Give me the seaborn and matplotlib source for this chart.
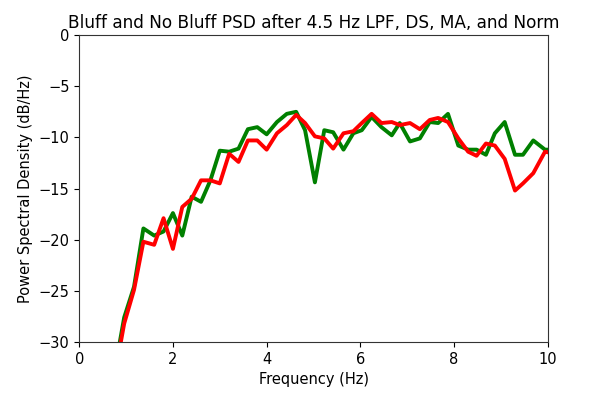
import matplotlib
matplotlib.use("Agg")
import matplotlib.pyplot as plt
import seaborn as sns
import pandas as pd

# frequencies (Hz)
freq = [0.75, 0.96, 1.17, 1.37, 1.60, 1.80, 2.00, 2.20, 2.40, 2.60, 2.80, 3.00,
        3.20, 3.40, 3.60, 3.80, 4.00, 4.22, 4.43, 4.63, 4.82, 5.03, 5.23, 5.42,
        5.64, 5.85, 6.03, 6.24, 6.45, 6.67, 6.84, 7.06, 7.27, 7.48, 7.66, 7.87,
        8.09, 8.30, 8.48, 8.68, 8.87, 9.08, 9.30, 9.47, 9.69, 9.94, 10.15]

# bluff PSD (green)
bluff_psd = [-33.0, -27.6, -24.6, -18.9, -19.6, -19.2, -17.4, -19.6, -15.8, -16.3,
             -14.2, -11.3, -11.4, -11.1, -9.2, -9.0, -9.7, -8.5, -7.7, -7.5,
             -9.3, -14.4, -9.3, -9.5, -11.2, -9.6, -9.3, -8.0, -9.0, -9.8,
             -8.6, -10.4, -10.1, -8.5, -8.6, -7.7, -10.8, -11.2, -11.2, -11.7,
             -9.6, -8.5, -11.7, -11.7, -10.3, -11.2, -11.2]

# no bluff PSD (red)
no_bluff_psd = [-33.5, -28.2, -24.9, -20.2, -20.5, -17.9, -20.9, -16.8, -16.0, -14.2,
                -14.2, -14.5, -11.6, -12.4, -10.3, -10.3, -11.2, -9.6, -8.8, -7.8,
                -8.6, -9.9, -10.1, -11.1, -9.6, -9.4, -8.6, -7.7, -8.6, -8.5,
                -8.8, -8.6, -9.2, -8.3, -8.1, -8.5, -10.1, -11.4, -11.8, -10.6,
                -10.8, -12.1, -15.2, -14.5, -13.5, -11.4, -11.6]

df = pd.DataFrame({"freq": freq, "bluff": bluff_psd, "no_bluff": no_bluff_psd})

sns.set_style("ticks", {"text.color": "black", "axes.labelcolor": "black",
                        "xtick.color": "black", "ytick.color": "black",
                        "axes.edgecolor": "#333333"})
plt.rcParams["font.family"] = ["DejaVu Sans"]

fig = plt.figure(figsize=(6.0, 3.94), dpi=100)
ax = fig.add_axes([0.132, 0.132, 0.781, 0.779])

sns.lineplot(data=df, x="freq", y="bluff", color="green", linewidth=2.8,
             sort=False, estimator=None, ax=ax)
sns.lineplot(data=df, x="freq", y="no_bluff", color="red", linewidth=2.8,
             sort=False, estimator=None, ax=ax)

ax.set_xlim(0, 10)
ax.set_ylim(-30, 0)
ax.set_xticks([0, 2, 4, 6, 8, 10])
ax.set_yticks([0, -5, -10, -15, -20, -25, -30])
ax.tick_params(labelsize=10.5)
ax.set_title("Bluff and No Bluff PSD after 4.5 Hz LPF, DS, MA, and Norm",
             fontsize=12.2, pad=5)
ax.set_xlabel("Frequency (Hz)", fontsize=10.5)
ax.set_ylabel("Power Spectral Density (dB/Hz)", fontsize=10.5)

fig.savefig("out.png", dpi=100)
